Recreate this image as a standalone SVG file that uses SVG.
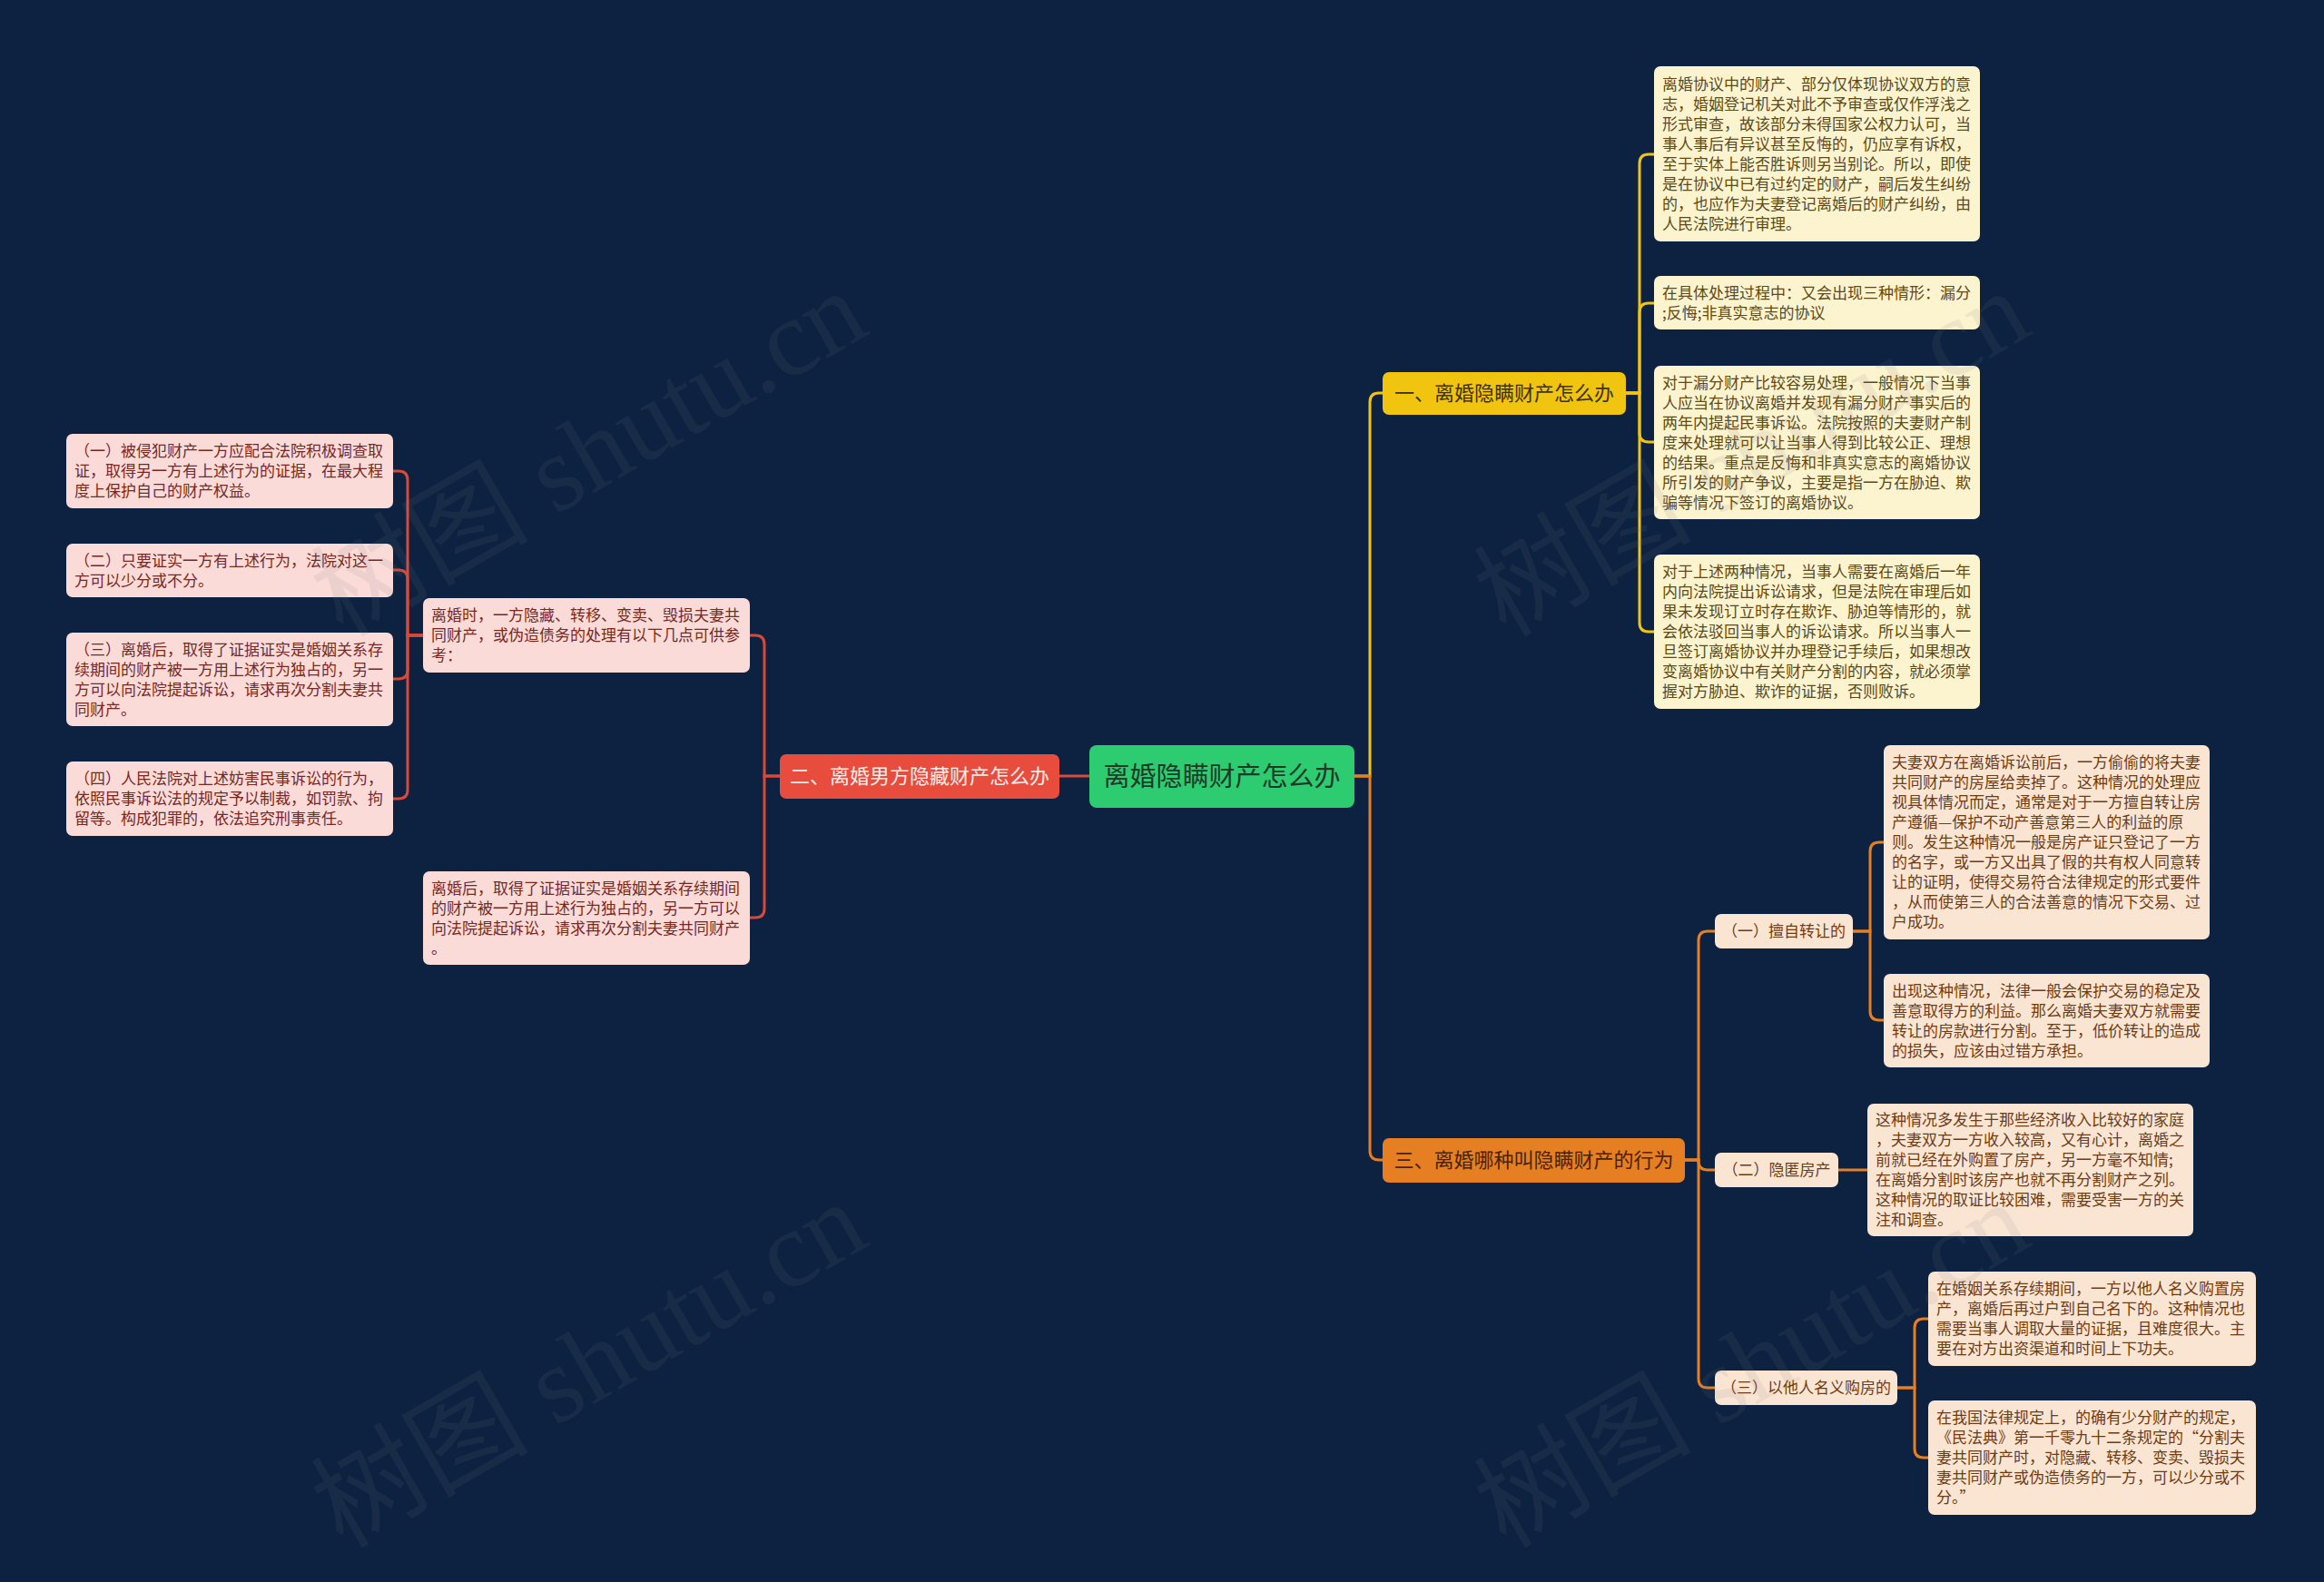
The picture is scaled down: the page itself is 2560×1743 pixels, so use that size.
<svg xmlns="http://www.w3.org/2000/svg" width="2560" height="1743" viewBox="0 0 2560 1743">
<style>
text{font-family:"Noto Sans CJK SC","Noto Sans",sans-serif;}
.lf{font-size:17px;}
.pk rect{fill:#fadbd8;}
.pk text{fill:#78281f;}
.yl rect{fill:#fcf3cf;}
.yl text{fill:#5c4a17;}
.pc rect{fill:#fae5d3;}
.pc text{fill:#6e3c14;}
.br text{font-size:22px;text-anchor:middle;}
.sub text{font-size:17px;text-anchor:middle;}
.cn path{fill:none;stroke-width:3;stroke-linecap:round;}
.r{stroke:#d9493a;}
.y{stroke:#f1c40f;}
.o{stroke:#e67e22;}
.wm{font-family:"Liberation Serif","Noto Sans CJK SC",serif;font-size:120px;fill:#808080;opacity:0.11;text-anchor:middle;}
</style>
<rect x="0" y="0" width="2560" height="1743" fill="#0c2240"/>

<g id="connectors" class="cn">
<path class="r" d="M1200,855 H1167"/>
<path class="y" d="M1492,855 H1509 V443 Q1509,433 1519,433 H1523"/>
<path class="o" d="M1492,855 H1509 V1268 Q1509,1278 1519,1278 H1523"/>
<path class="r" d="M859,855 H842 V710 Q842,700 832,700 H826"/>
<path class="r" d="M859,855 H842 V1001 Q842,1011 832,1011 H826"/>
<path class="r" d="M466,700 H449 V529 Q449,519 439,519 H433"/>
<path class="r" d="M466,700 H449 V638 Q449,628 439,628 H433"/>
<path class="r" d="M466,700 H449 V738 Q449,748 439,748 H433"/>
<path class="r" d="M466,700 H449 V870 Q449,880 439,880 H433"/>
<path class="y" d="M1791,433 H1806 V180 Q1806,170 1816,170 H1822"/>
<path class="y" d="M1791,433 H1806 V344 Q1806,334 1816,334 H1822"/>
<path class="y" d="M1791,433 H1806 V477 Q1806,487 1816,487 H1822"/>
<path class="y" d="M1791,433 H1806 V686 Q1806,696 1816,696 H1822"/>
<path class="o" d="M1856,1278 H1871 V1036 Q1871,1026 1881,1026 H1889"/>
<path class="o" d="M1856,1278 H1871 V1279 Q1871,1289 1881,1289 H1889"/>
<path class="o" d="M1856,1278 H1871 V1519 Q1871,1529 1881,1529 H1889"/>
<path class="o" d="M2041,1026 H2060 V938 Q2060,928 2070,928 H2075"/>
<path class="o" d="M2041,1026 H2060 V1114 Q2060,1124 2070,1124 H2075"/>
<path class="o" d="M2025,1289 H2057"/>
<path class="o" d="M2090,1529 H2109 V1463 Q2109,1453 2119,1453 H2124"/>
<path class="o" d="M2090,1529 H2109 V1596 Q2109,1606 2119,1606 H2124"/>
</g>

<g id="center">
<rect x="1200" y="821" width="292" height="69" rx="8" fill="#2ecc71"/>
<text x="1346" y="866" font-size="29" text-anchor="middle" fill="#1b3a28">离婚隐瞒财产怎么办</text>
</g>

<g id="branch1" class="br">
<rect x="1523" y="410" width="268" height="47" rx="7" fill="#f1c40f"/>
<text x="1657" y="441" fill="#3d3206">一、离婚隐瞒财产怎么办</text>
</g>
<g id="branch2" class="br">
<rect x="859" y="831" width="308" height="49" rx="7" fill="#e74c3c"/>
<text x="1013" y="863" fill="#fdecea">二、离婚男方隐藏财产怎么办</text>
</g>
<g id="branch3" class="br">
<rect x="1523" y="1254" width="333" height="49" rx="7" fill="#e67e22"/>
<text x="1689.5" y="1286" fill="#4a2305">三、离婚哪种叫隐瞒财产的行为</text>
</g>

<g id="m1" class="pk lf">
<rect x="466" y="659" width="360" height="82" rx="7"/>
<text y="684.3"><tspan x="475">离婚时，一方隐藏、转移、变卖、毁损夫妻共</tspan><tspan x="475" dy="22">同财产，或伪造债务的处理有以下几点可供参</tspan><tspan x="475" dy="22">考：</tspan></text>
</g>
<g id="m2" class="pk lf">
<rect x="466" y="960" width="360" height="103" rx="7"/>
<text y="984.9"><tspan x="475">离婚后，取得了证据证实是婚姻关系存续期间</tspan><tspan x="475" dy="22">的财产被一方用上述行为独占的，另一方可以</tspan><tspan x="475" dy="22">向法院提起诉讼，请求再次分割夫妻共同财产</tspan><tspan x="475" dy="22">。</tspan></text>
</g>

<g id="p1" class="pk lf">
<rect x="73" y="478" width="360" height="82" rx="7"/>
<text y="503.3"><tspan x="82">（一）被侵犯财产一方应配合法院积极调查取</tspan><tspan x="82" dy="22">证，取得另一方有上述行为的证据，在最大程</tspan><tspan x="82" dy="22">度上保护自己的财产权益。</tspan></text>
</g>
<g id="p2" class="pk lf">
<rect x="73" y="599" width="360" height="59" rx="7"/>
<text y="623.8"><tspan x="82">（二）只要证实一方有上述行为，法院对这一</tspan><tspan x="82" dy="22">方可以少分或不分。</tspan></text>
</g>
<g id="p3" class="pk lf">
<rect x="73" y="697" width="360" height="103" rx="7"/>
<text y="721.9"><tspan x="82">（三）离婚后，取得了证据证实是婚姻关系存</tspan><tspan x="82" dy="22">续期间的财产被一方用上述行为独占的，另一</tspan><tspan x="82" dy="22">方可以向法院提起诉讼，请求再次分割夫妻共</tspan><tspan x="82" dy="22">同财产。</tspan></text>
</g>
<g id="p4" class="pk lf">
<rect x="73" y="839" width="360" height="82" rx="7"/>
<text y="864.3"><tspan x="82">（四）人民法院对上述妨害民事诉讼的行为，</tspan><tspan x="82" dy="22">依照民事诉讼法的规定予以制裁，如罚款、拘</tspan><tspan x="82" dy="22">留等。构成犯罪的，依法追究刑事责任。</tspan></text>
</g>

<g id="y1" class="yl lf">
<rect x="1822" y="73" width="359" height="193" rx="7"/>
<text y="98.9"><tspan x="1831">离婚协议中的财产、部分仅体现协议双方的意</tspan><tspan x="1831" dy="22">志，婚姻登记机关对此不予审查或仅作浮浅之</tspan><tspan x="1831" dy="22">形式审查，故该部分未得国家公权力认可，当</tspan><tspan x="1831" dy="22">事人事后有异议甚至反悔的，仍应享有诉权，</tspan><tspan x="1831" dy="22">至于实体上能否胜诉则另当别论。所以，即使</tspan><tspan x="1831" dy="22">是在协议中已有过约定的财产，嗣后发生纠纷</tspan><tspan x="1831" dy="22">的，也应作为夫妻登记离婚后的财产纠纷，由</tspan><tspan x="1831" dy="22">人民法院进行审理。</tspan></text>
</g>
<g id="y2" class="yl lf">
<rect x="1822" y="304" width="359" height="59" rx="7"/>
<text y="328.8"><tspan x="1831">在具体处理过程中：又会出现三种情形：漏分</tspan><tspan x="1831" dy="22">;反悔;非真实意志的协议</tspan></text>
</g>
<g id="y3" class="yl lf">
<rect x="1822" y="403" width="359" height="169" rx="7"/>
<text y="427.9"><tspan x="1831">对于漏分财产比较容易处理，一般情况下当事</tspan><tspan x="1831" dy="22">人应当在协议离婚并发现有漏分财产事实后的</tspan><tspan x="1831" dy="22">两年内提起民事诉讼。法院按照的夫妻财产制</tspan><tspan x="1831" dy="22">度来处理就可以让当事人得到比较公正、理想</tspan><tspan x="1831" dy="22">的结果。重点是反悔和非真实意志的离婚协议</tspan><tspan x="1831" dy="22">所引发的财产争议，主要是指一方在胁迫、欺</tspan><tspan x="1831" dy="22">骗等情况下签订的离婚协议。</tspan></text>
</g>
<g id="y4" class="yl lf">
<rect x="1822" y="611" width="359" height="170" rx="7"/>
<text y="636.4"><tspan x="1831">对于上述两种情况，当事人需要在离婚后一年</tspan><tspan x="1831" dy="22">内向法院提出诉讼请求，但是法院在审理后如</tspan><tspan x="1831" dy="22">果未发现订立时存在欺诈、胁迫等情形的，就</tspan><tspan x="1831" dy="22">会依法驳回当事人的诉讼请求。所以当事人一</tspan><tspan x="1831" dy="22">旦签订离婚协议并办理登记手续后，如果想改</tspan><tspan x="1831" dy="22">变离婚协议中有关财产分割的内容，就必须掌</tspan><tspan x="1831" dy="22">握对方胁迫、欺诈的证据，否则败诉。</tspan></text>
</g>

<g id="s1" class="pc sub">
<rect x="1889" y="1007" width="152" height="38" rx="7"/>
<text x="1965" y="1032">（一）擅自转让的</text>
</g>
<g id="s2" class="pc sub">
<rect x="1889" y="1270" width="136" height="38" rx="7"/>
<text x="1957" y="1295">（二）隐匿房产</text>
</g>
<g id="s3" class="pc sub">
<rect x="1889" y="1510" width="201" height="38" rx="7"/>
<text x="1989.5" y="1535">（三）以他人名义购房的</text>
</g>

<g id="s1a" class="pc lf">
<rect x="2075" y="821" width="359" height="214" rx="7"/>
<text y="846.4"><tspan x="2084">夫妻双方在离婚诉讼前后，一方偷偷的将夫妻</tspan><tspan x="2084" dy="22">共同财产的房屋给卖掉了。这种情况的处理应</tspan><tspan x="2084" dy="22">视具体情况而定，通常是对于一方擅自转让房</tspan><tspan x="2084" dy="22">产遵循—保护不动产善意第三人的利益的原</tspan><tspan x="2084" dy="22">则。发生这种情况一般是房产证只登记了一方</tspan><tspan x="2084" dy="22">的名字，或一方又出具了假的共有权人同意转</tspan><tspan x="2084" dy="22">让的证明，使得交易符合法律规定的形式要件</tspan><tspan x="2084" dy="22">，从而使第三人的合法善意的情况下交易、过</tspan><tspan x="2084" dy="22">户成功。</tspan></text>
</g>
<g id="s1b" class="pc lf">
<rect x="2075" y="1073" width="359" height="103" rx="7"/>
<text y="1097.9"><tspan x="2084">出现这种情况，法律一般会保护交易的稳定及</tspan><tspan x="2084" dy="22">善意取得方的利益。那么离婚夫妻双方就需要</tspan><tspan x="2084" dy="22">转让的房款进行分割。至于，低价转让的造成</tspan><tspan x="2084" dy="22">的损失，应该由过错方承担。</tspan></text>
</g>
<g id="s2a" class="pc lf">
<rect x="2057" y="1216" width="359" height="146" rx="7"/>
<text y="1240.4"><tspan x="2066">这种情况多发生于那些经济收入比较好的家庭</tspan><tspan x="2066" dy="22">，夫妻双方一方收入较高，又有心计，离婚之</tspan><tspan x="2066" dy="22">前就已经在外购置了房产，另一方毫不知情;</tspan><tspan x="2066" dy="22">在离婚分割时该房产也就不再分割财产之列。</tspan><tspan x="2066" dy="22">这种情况的取证比较困难，需要受害一方的关</tspan><tspan x="2066" dy="22">注和调查。</tspan></text>
</g>
<g id="s3a" class="pc lf">
<rect x="2124" y="1401" width="361" height="104" rx="7"/>
<text y="1426.4"><tspan x="2133">在婚姻关系存续期间，一方以他人名义购置房</tspan><tspan x="2133" dy="22">产，离婚后再过户到自己名下的。这种情况也</tspan><tspan x="2133" dy="22">需要当事人调取大量的证据，且难度很大。主</tspan><tspan x="2133" dy="22">要在对方出资渠道和时间上下功夫。</tspan></text>
</g>
<g id="s3b" class="pc lf">
<rect x="2124" y="1543" width="361" height="126" rx="7"/>
<text y="1568.4"><tspan x="2133">在我国法律规定上，的确有少分财产的规定，</tspan><tspan x="2133" dy="22">《民法典》第一千零九十二条规定的“分割夫</tspan><tspan x="2133" dy="22">妻共同财产时，对隐藏、转移、变卖、毁损夫</tspan><tspan x="2133" dy="22">妻共同财产或伪造债务的一方，可以少分或不</tspan><tspan x="2133" dy="22">分。”</tspan></text>
</g>

<g id="watermarks">
<text class="wm" transform="translate(649,500) rotate(-30)" y="40">树图 shutu.cn</text>
<text class="wm" transform="translate(649,1504) rotate(-30)" y="40">树图 shutu.cn</text>
<text class="wm" transform="translate(1930,500) rotate(-30)" y="40">树图 shutu.cn</text>
<text class="wm" transform="translate(1930,1504) rotate(-30)" y="40">树图 shutu.cn</text>
</g>
</svg>
